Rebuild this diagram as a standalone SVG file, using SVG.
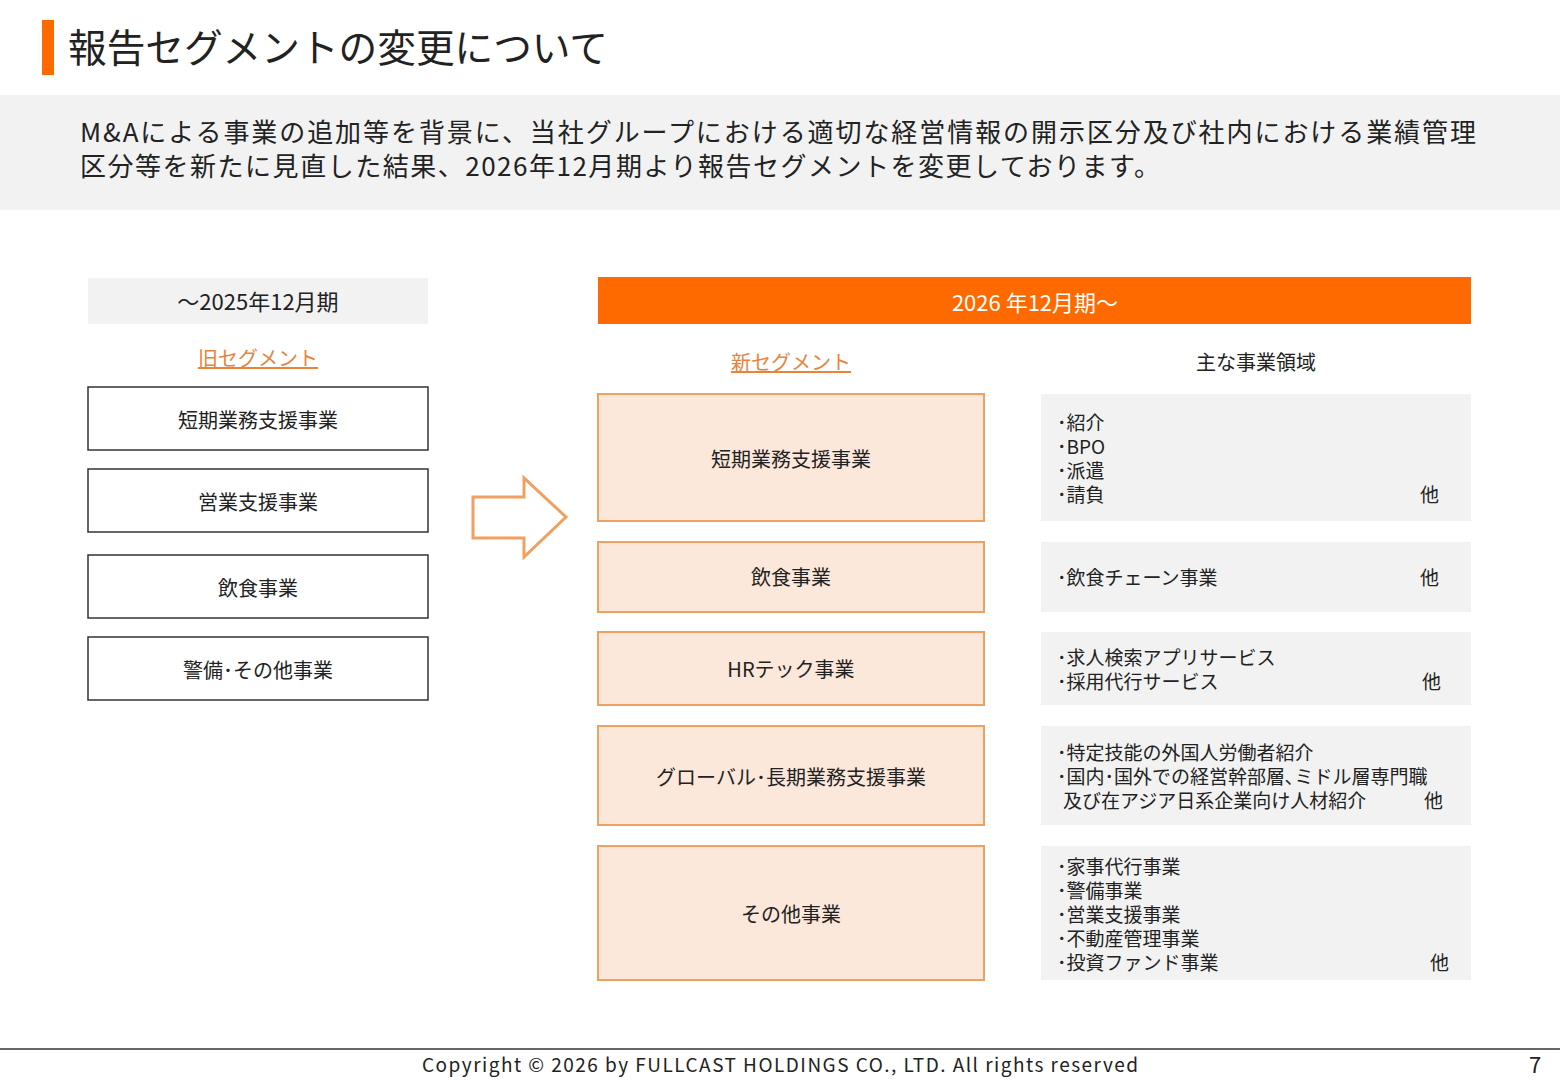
<svg xmlns="http://www.w3.org/2000/svg" width="1560" height="1080" viewBox="0 0 1560 1080">
<style>
text{font-family:"Noto Sans CJK JP","Noto Sans",sans-serif;fill:#222}
.c{text-anchor:middle}
.f20{font-size:20px}
.f19{font-size:19px}
.old{fill:#fff;stroke:#333;stroke-width:1.5}
.new{fill:#fce8da;stroke:#f0a060;stroke-width:2}
.g{fill:#f2f2f2}
.o{fill:#e8833a;text-decoration:underline}
</style>
<rect width="1560" height="1080" fill="#fff"/>
<rect x="42" y="20" width="12" height="55" fill="#ff6a00"/>
<text x="68" y="62" font-size="39" textLength="540" lengthAdjust="spacingAndGlyphs">報告セグメントの変更について</text>
<rect x="0" y="95" width="1560" height="115" class="g"/>
<text x="80" y="142" font-size="26" textLength="1396">M&amp;Aによる事業の追加等を背景に、当社グループにおける適切な経営情報の開示区分及び社内における業績管理</text>
<text x="80" y="176" font-size="26" textLength="1080">区分等を新たに見直した結果、2026年12月期より報告セグメントを変更しております。</text>

<g id="old-header"><rect x="88" y="278" width="340" height="46" class="g"/><text x="258" y="310" class="c" font-size="22">～2025年12月期</text></g>
<text x="258" y="366" class="c o f20">旧セグメント</text>
<g id="old1"><rect x="88" y="387" width="340" height="63" class="old"/><text x="258" y="428" class="c f20">短期業務支援事業</text></g>
<g id="old2"><rect x="88" y="469" width="340" height="63" class="old"/><text x="258" y="510" class="c f20">営業支援事業</text></g>
<g id="old3"><rect x="88" y="555" width="340" height="63" class="old"/><text x="258" y="596" class="c f20">飲食事業</text></g>
<g id="old4"><rect x="88" y="637" width="340" height="63" class="old"/><text x="258" y="678" class="c f20">警備･その他事業</text></g>

<g id="connectors"><polygon points="473,497 524,497 524,478 566,517 524,557 524,538 473,538" fill="#fff" stroke="#f0a060" stroke-width="3"/></g>

<g id="new-header"><rect x="598" y="277" width="873" height="47" fill="#ff6a00"/><text x="1035" y="311" class="c" font-size="22" style="fill:#fff">2026 年12月期～</text></g>
<text x="791" y="370" class="c o f20">新セグメント</text>
<text x="1256" y="370" class="c f20">主な事業領域</text>

<g id="new1"><rect x="598" y="394" width="386" height="127" class="new"/><text x="791" y="467" class="c f20">短期業務支援事業</text></g>
<g id="new2"><rect x="598" y="542" width="386" height="70" class="new"/><text x="791" y="585" class="c f20">飲食事業</text></g>
<g id="new3"><rect x="598" y="632" width="386" height="73" class="new"/><text x="791" y="677" class="c f20">HRテック事業</text></g>
<g id="new4"><rect x="598" y="726" width="386" height="99" class="new"/><text x="791" y="785" class="c f20">グローバル･長期業務支援事業</text></g>
<g id="new5"><rect x="598" y="846" width="386" height="134" class="new"/><text x="791" y="922" class="c f20">その他事業</text></g>

<g id="d1"><rect x="1041" y="394" width="430" height="127" class="g"/>
<text class="f19"><tspan x="1057" y="430">･紹介</tspan><tspan x="1057" y="454">･BPO</tspan><tspan x="1057" y="478">･派遣</tspan><tspan x="1057" y="502">･請負</tspan></text><text x="1420" y="502" class="f19">他</text></g>
<g id="d2"><rect x="1041" y="542" width="430" height="70" class="g"/><text x="1057" y="585" class="f19">･飲食チェーン事業</text><text x="1420" y="585" class="f19">他</text></g>
<g id="d3"><rect x="1041" y="632" width="430" height="73" class="g"/><text class="f19"><tspan x="1057" y="665">･求人検索アプリサービス</tspan><tspan x="1057" y="689">･採用代行サービス</tspan></text><text x="1422" y="689" class="f19">他</text></g>
<g id="d4"><rect x="1041" y="726" width="430" height="99" class="g"/><text class="f19"><tspan x="1057" y="760">･特定技能の外国人労働者紹介</tspan><tspan x="1057" y="784">･国内･国外での経営幹部層､ミドル層専門職</tspan><tspan x="1063" y="808">及び在アジア日系企業向け人材紹介</tspan></text><text x="1424" y="808" class="f19">他</text></g>
<g id="d5"><rect x="1041" y="846" width="430" height="134" class="g"/><text class="f19"><tspan x="1057" y="874">･家事代行事業</tspan><tspan x="1057" y="898">･警備事業</tspan><tspan x="1057" y="922">･営業支援事業</tspan><tspan x="1057" y="946">･不動産管理事業</tspan><tspan x="1057" y="970">･投資ファンド事業</tspan></text><text x="1430" y="970" class="f19">他</text></g>

<line x1="0" y1="1049" x2="1560" y2="1049" stroke="#333" stroke-width="1.5"/>
<text x="422" y="1072" font-size="19" textLength="716">Copyright © 2026 by FULLCAST HOLDINGS CO., LTD. All rights reserved</text>
<text x="1535" y="1073" class="c" font-size="22">7</text>
</svg>
